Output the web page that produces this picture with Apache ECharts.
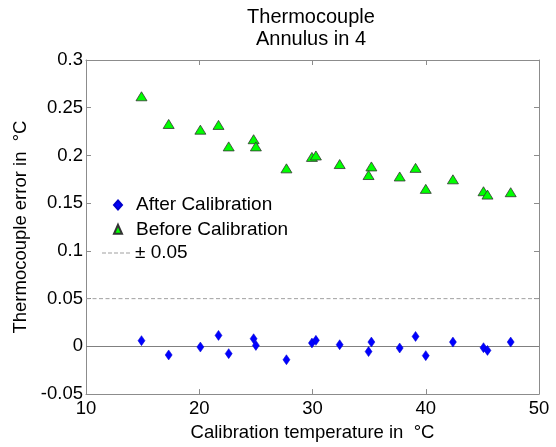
<!DOCTYPE html>
<html>
<head>
<meta charset="utf-8">
<script src="https://cdn.jsdelivr.net/npm/echarts@6/dist/echarts.min.js"></script>
<style>
  html, body { margin: 0; padding: 0; background: #fff; }
  #chart { width: 556px; height: 447px; }
</style>
</head>
<body>
<div id="chart"></div>
<script>
// Calibration temperatures (°C) shared by both measurement sets
const temps = [14.9, 17.3, 20.1, 21.7, 22.6, 24.8, 25.0, 27.7, 29.95, 30.3,
               32.4, 35.2, 34.95, 37.7, 39.1, 40.0, 42.4, 45.1, 45.45, 47.5];
// Thermocouple error before calibration (°C)
const beforeErr = [0.262, 0.233, 0.227, 0.232, 0.2095, 0.217, 0.2095, 0.1865, 0.1985, 0.2,
                   0.191, 0.1885, 0.1795, 0.178, 0.187, 0.165, 0.175, 0.1625, 0.159, 0.1615];
// Thermocouple error after calibration (°C)
const afterErr = [0.006, -0.009, -0.0007, 0.0115, -0.0076, 0.008, 0.001, -0.014, 0.0035, 0.0063,
                  0.0017, 0.0045, -0.0055, -0.0017, 0.0104, -0.0097, 0.0045, -0.0014, -0.0042, 0.0045];
const tolerance = 0.05;
const xTicks = { min: 10, max: 50, step: 10 };
const yTicks = { min: -0.05, max: 0.3, step: 0.05 };

const FONT = 'Liberation Sans, Arial, sans-serif';
const AX = '#8c8c8c';
const TOL_COLOR = '#a0a0a0';

const chart = echarts.init(document.getElementById('chart'), null, { renderer: 'canvas' });

const pairs = (ys) => temps.map((t, i) => [t, ys[i]]);

const baseX = {
  type: 'value', min: xTicks.min, max: xTicks.max, interval: xTicks.step,
  axisLine: { show: true, onZero: false, lineStyle: { color: AX, width: 1 } },
  axisTick: { show: true, inside: true, length: 5, lineStyle: { color: AX } },
  splitLine: { show: false }
};
const baseY = {
  type: 'value', min: yTicks.min, max: yTicks.max, interval: yTicks.step,
  axisLine: { show: true, onZero: false, lineStyle: { color: AX, width: 1 } },
  axisTick: { show: true, inside: true, length: 5, lineStyle: { color: AX } },
  splitLine: { show: false }
};

// dashed legend swatch for the tolerance line
const dashIcon = 'path://M0,0h4v1h-4zM6,0h4v1h-4zM12,0h4v1h-4zM18,0h4v1h-4zM24,0h4v1h-4z';

const legendText = { fontSize: 19, color: '#000', fontFamily: FONT, lineHeight: 20 };

chart.setOption({
  animation: false,
  backgroundColor: '#fff',
  textStyle: { fontFamily: FONT },
  grid: { left: 86, right: 17, top: 60, bottom: 51, containLabel: false },
  graphic: [{
    type: 'text', x: 311, y: 6,
    style: {
      text: 'Thermocouple\nAnnulus in 4', fill: '#000', font: '20px ' + FONT,
      align: 'center', verticalAlign: 'top', lineHeight: 22
    }
  }],
  legend: [
    {
      left: 108, top: 190, orient: 'vertical', itemGap: 4.3,
      itemWidth: 8, itemHeight: 9,
      textStyle: Object.assign({ padding: [0, 0, 0, 9] }, legendText),
      data: [
        { name: 'After Calibration', icon: 'diamond' },
        { name: 'Before Calibration', icon: 'triangle' }
      ]
    },
    {
      left: 97, top: 238, orient: 'vertical',
      itemWidth: 28, itemHeight: 1,
      textStyle: legendText,
      data: [{ name: '± 0.05', icon: dashIcon, itemStyle: { color: TOL_COLOR, borderWidth: 0 } }]
    }
  ],
  xAxis: [
    Object.assign({}, baseX, {
      position: 'bottom',
      axisLabel: { color: '#000', fontSize: 18.5, fontFamily: FONT, margin: 5 },
      name: 'Calibration temperature in  °C', nameLocation: 'middle', nameGap: 23,
      nameTextStyle: { color: '#000', fontSize: 18.5, fontFamily: FONT }
    }),
    Object.assign({}, baseX, { position: 'top', axisLabel: { show: false } })
  ],
  yAxis: [
    Object.assign({}, baseY, {
      position: 'left',
      axisLabel: { color: '#000', fontSize: 18.5, fontFamily: FONT, margin: 3 },
      name: 'Thermocouple error in  °C', nameLocation: 'middle', nameGap: 50,
      nameTextStyle: { color: '#000', fontSize: 18.5, fontFamily: FONT }
    }),
    Object.assign({}, baseY, { position: 'right', axisLabel: { show: false } })
  ],
  series: [
    {
      name: 'After Calibration', type: 'scatter', data: pairs(afterErr),
      symbol: 'diamond', symbolSize: [7, 10],
      itemStyle: { color: '#0000ff', borderColor: '#0000cc', borderWidth: 0.5, opacity: 1 },
      z: 5,
      markLine: {
        silent: true, symbol: 'none', label: { show: false },
        lineStyle: { color: '#808080', type: 'solid', width: 1 },
        data: [{ yAxis: 0 }]
      }
    },
    {
      name: 'Before Calibration', type: 'scatter', data: pairs(beforeErr),
      symbol: 'triangle', symbolSize: [11, 9],
      itemStyle: { color: '#00ff00', borderColor: '#333', borderWidth: 0.8, opacity: 1 },
      z: 5
    },
    {
      name: '± 0.05', type: 'line', data: [[xTicks.min, tolerance], [xTicks.max, tolerance]],
      symbol: 'none', silent: true,
      lineStyle: { color: TOL_COLOR, type: [4, 2.5], width: 1 },
      itemStyle: { color: TOL_COLOR },
      z: 2
    }
  ]
});
</script>
</body>
</html>
